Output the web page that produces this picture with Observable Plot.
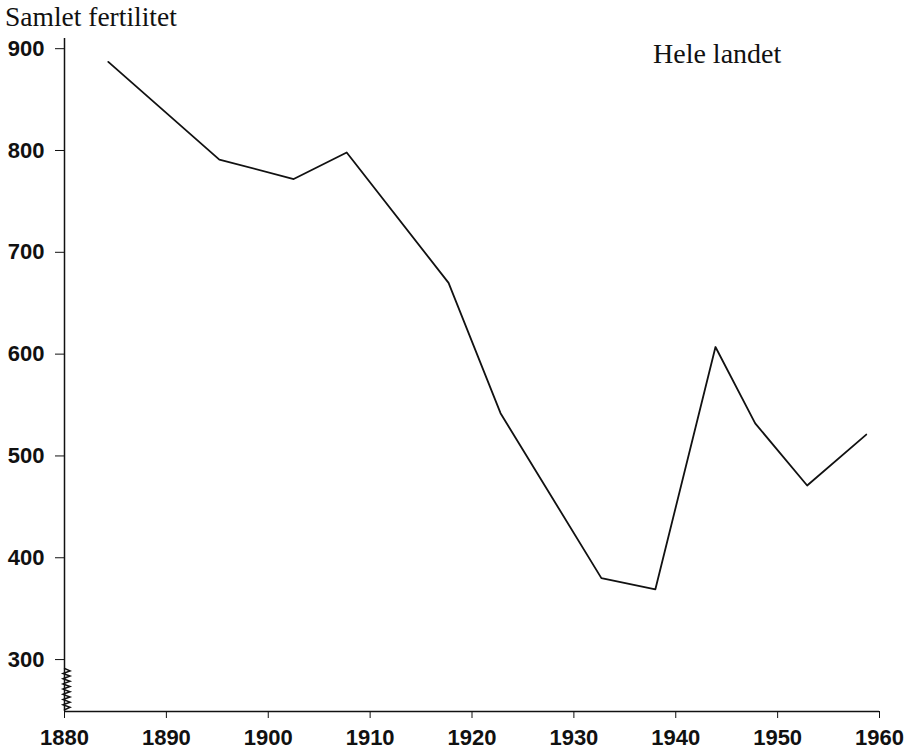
<!DOCTYPE html>
<html><head><meta charset="utf-8">
<script src="https://cdn.jsdelivr.net/npm/d3@7"></script>
<script src="https://cdn.jsdelivr.net/npm/@observablehq/plot@0.6"></script>
<style>
body{margin:0;background:#fff;}
</style></head><body>
<div id="chart"></div>
<script>
// Data
const years = [1884.3, 1895.2, 1902.5, 1907.7, 1917.7, 1922.8, 1932.7, 1938.0, 1943.9, 1947.8, 1952.9, 1958.7];
const fertility = [887, 791, 772, 798, 670, 542, 380, 369, 607, 532, 471, 521];
const xTicks = [1880, 1890, 1900, 1910, 1920, 1930, 1940, 1950, 1960];
const yTicks = [300, 400, 500, 600, 700, 800, 900];
const yBreak = [250, 291];
const titleText = "Samlet fertilitet";
const regionText = "Hele landet";

const data = years.map((y, i) => ({year: y, value: fertility[i]}));

const plot = Plot.plot({
  width: 905, height: 751,
  marginLeft: 64, marginRight: 26, marginTop: 38, marginBottom: 40,
  x: {domain: [1880, 1960], ticks: xTicks, tickFormat: d => String(d), tickSize: 7, tickPadding: 11, label: null},
  y: {domain: [249, 910], ticks: yTicks, tickFormat: d => String(d), tickSize: 9, tickPadding: 11, label: null},
  style: {fontFamily: "'Liberation Sans', Arial, sans-serif", fontSize: "22px", fontWeight: "bold", color: "#111", background: "#fff"},
  marks: [
    Plot.ruleX([1880], {stroke: "#111", strokeWidth: 1.5}),
    Plot.ruleY([249], {stroke: "#111", strokeWidth: 1.5}),
    Plot.line(data, {x: "year", y: "value", stroke: "#111", strokeWidth: 1.8})
  ]
});
document.getElementById("chart").appendChild(plot);

const svg = d3.select(plot);
const sx = plot.scale("x"), sy = plot.scale("y");
// axis break zigzag
const x0 = sx.apply(1880);
const ya = sy.apply(yBreak[0]), yb = sy.apply(yBreak[1]);
const n = 16;
const pts = [];
for (let i = 0; i <= n; i++) {
  const y = ya + (yb - ya) * i / n;
  const x = (i === 0 || i === n) ? x0 : x0 + (i % 2 ? 6 : -1);
  pts.push([x, y]);
}
svg.append("path").attr("d", d3.line()(pts)).attr("fill", "none").attr("stroke", "#111").attr("stroke-width", 1.5);

svg.append("text").text(titleText)
  .attr("x", 5).attr("y", 26).attr("text-anchor", "start")
  .attr("font-family", "'Liberation Serif', 'DejaVu Serif', serif")
  .attr("font-size", 27.5).attr("font-weight", "normal").attr("fill", "#111");
svg.append("text").text(regionText)
  .attr("x", 653).attr("y", 63).attr("text-anchor", "start")
  .attr("font-family", "'Liberation Serif', 'DejaVu Serif', serif")
  .attr("font-size", 28).attr("font-weight", "normal").attr("fill", "#111");
</script>
</body></html>
